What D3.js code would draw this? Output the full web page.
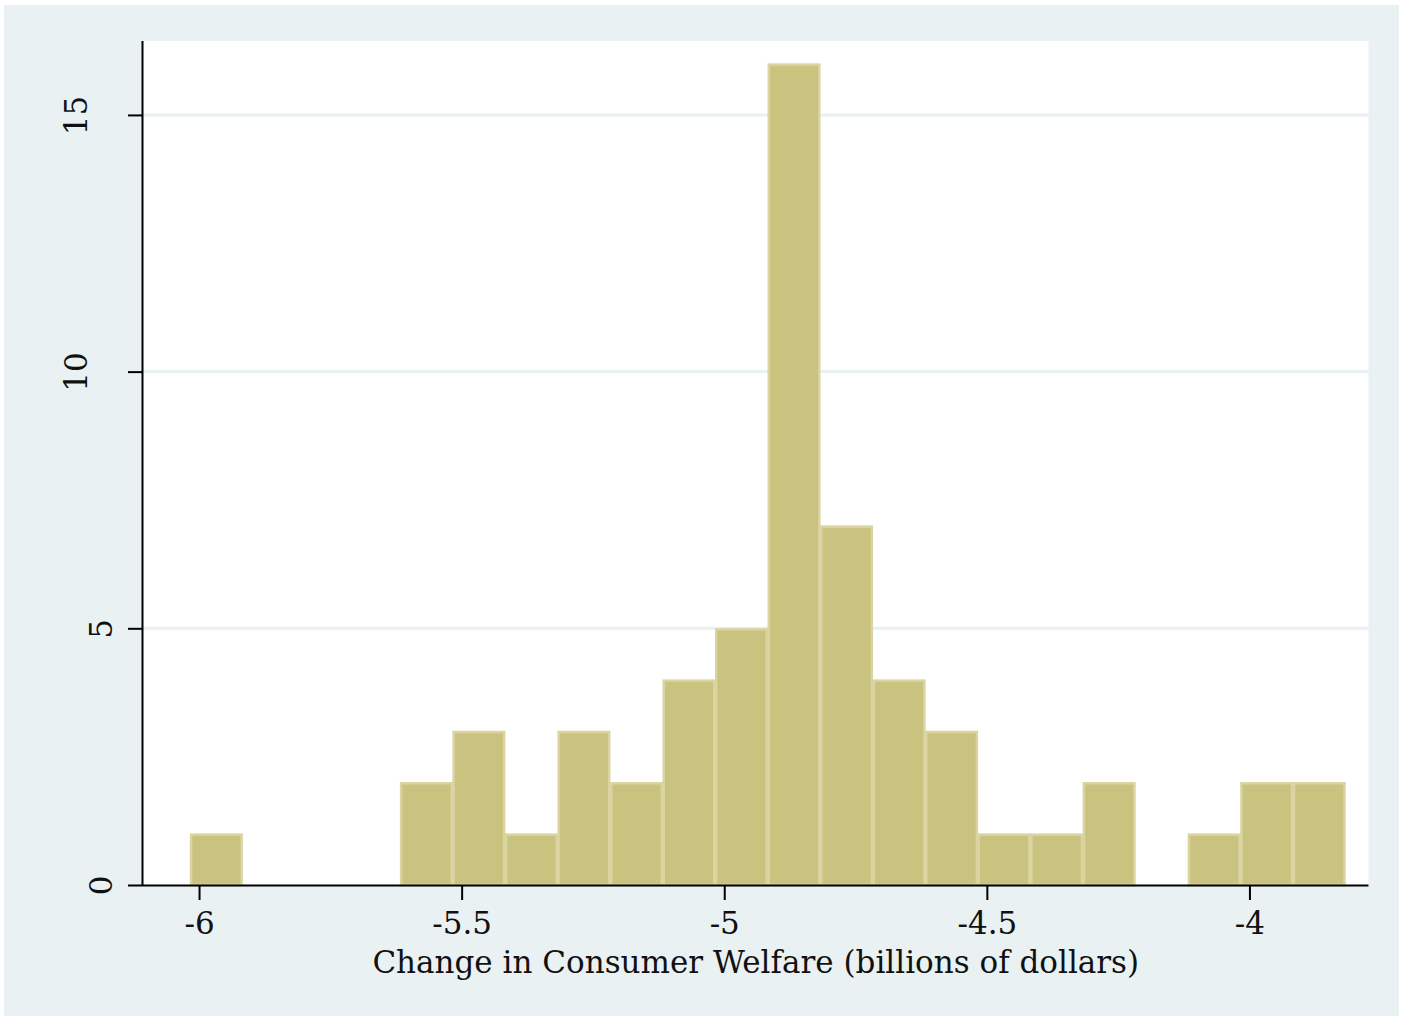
<!DOCTYPE html>
<html>
<head>
<meta charset="utf-8">
<script src="https://cdn.jsdelivr.net/npm/d3@7"></script>
<style>
html,body{margin:0;padding:0;background:#fff;}
svg{display:block;}
text{font-family:"DejaVu Serif","Liberation Serif",serif;fill:#111;}
</style>
</head>
<body>
<script>
// Histogram bins (start of each bin) and counts
const binStart = -6.0171;
const binWidth = 0.1;
const counts = [1,0,0,0,2,3,1,3,2,4,5,16,7,4,3,1,1,2,0,1,2,2];
const xTicks = [-6,-5.5,-5,-4.5,-4];
const xTickLabels = ["-6","-5.5","-5","-4.5","-4"];
const yTicks = [0,5,10,15];
const yTickLabels = ["0","5","10","15"];
const xTitle = "Change in Consumer Welfare (billions of dollars)";

const W = 1401, H = 1018;
const svg = d3.select("body").append("svg").attr("width", W).attr("height", H);
svg.append("rect").attr("x",4).attr("y",5).attr("width",1395).attr("height",1011).attr("fill","#eaf1f3");

const L = 143, R = 1368.5, T = 41, B = 885;
svg.append("rect").attr("x",L).attr("y",T).attr("width",R-L).attr("height",B-T).attr("fill","#fff");

const x = d3.scaleLinear().domain([-6.1067,-3.7733]).range([L,R]);
const y = d3.scaleLinear().domain([0,16.44]).range([B,T]);

// gridlines
svg.append("g").selectAll("line").data(yTicks.filter(d=>d>0)).join("line")
  .attr("x1",L).attr("x2",R).attr("y1",d=>y(d)).attr("y2",d=>y(d))
  .attr("stroke","#e8f0f2").attr("stroke-width",3);

const bins = counts.map((c,i)=>({x0:binStart+i*binWidth, x1:binStart+(i+1)*binWidth, c}));
svg.append("g").selectAll("rect").data(bins.filter(b=>b.c>0)).join("rect")
  .attr("x",d=>x(d.x0)+1).attr("width",d=>x(d.x1)-x(d.x0)-2)
  .attr("y",d=>y(d.c)+1).attr("height",d=>y(0)-y(d.c)-1)
  .attr("fill","#cac380").attr("stroke","#d9d4a0").attr("stroke-width",2.5);

// x axis
const xAxis = d3.axisBottom(x).tickValues(xTicks).tickFormat((d,i)=>xTickLabels[i]).tickSize(15).tickPadding(12);
const gx = svg.append("g").attr("transform",`translate(0,${B})`).call(xAxis);
gx.select(".domain").attr("d",`M${L},0.5H${R}`).attr("stroke","#000").attr("stroke-width",2);
gx.selectAll(".tick line").attr("stroke","#000").attr("stroke-width",2);
gx.selectAll(".tick text").attr("font-size",31).attr("fill","#111")
  .style("font-family","'DejaVu Serif','Liberation Serif',serif");

// y axis
const yAxis = d3.axisLeft(y).tickValues(yTicks).tickFormat((d,i)=>yTickLabels[i]).tickSize(15).tickPadding(0);
const gy = svg.append("g").attr("transform",`translate(${L},0)`).call(yAxis);
gy.select(".domain").attr("d",`M-0.5,${T}V${B}`).attr("stroke","#000").attr("stroke-width",2);
gy.selectAll(".tick line").attr("stroke","#000").attr("stroke-width",2);
gy.selectAll(".tick text").attr("font-size",31).attr("fill","#111")
  .attr("x",null).attr("dy",null)
  .attr("text-anchor","middle")
  .attr("transform",function(){ const n=this.textContent.length; return `translate(${n>1?-56:-31},0) rotate(-90)`; })
  .style("font-family","'DejaVu Serif','Liberation Serif',serif");

svg.append("text").attr("x",(L+R)/2).attr("y",973).attr("text-anchor","middle")
  .attr("font-size",31).text(xTitle);
</script>
</body>
</html>
